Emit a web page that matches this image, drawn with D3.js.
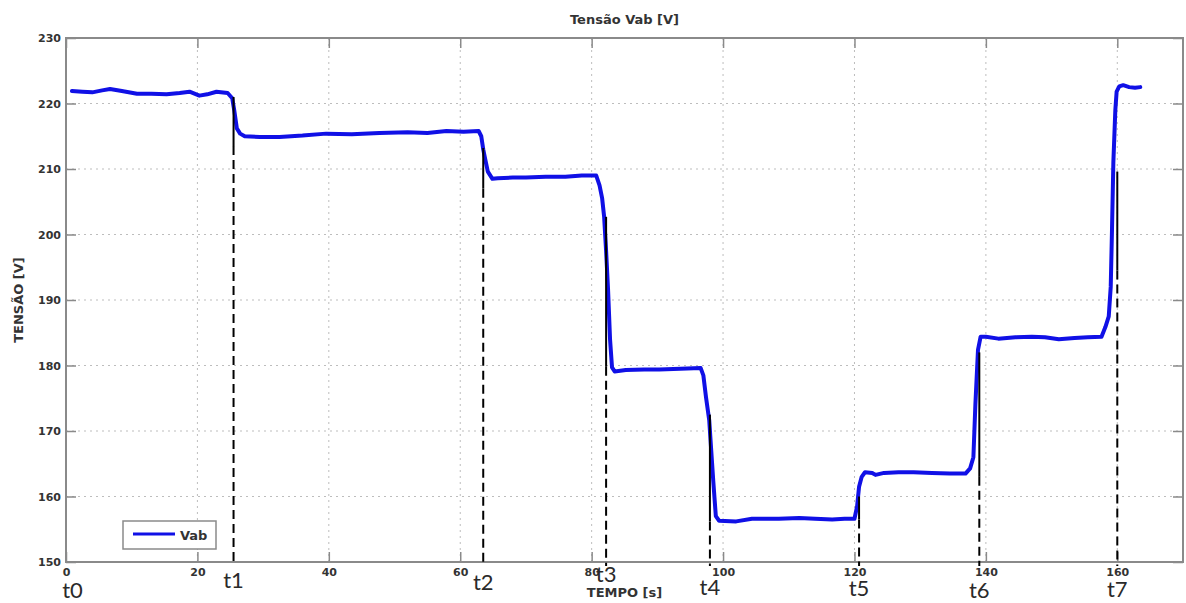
<!DOCTYPE html>
<html>
<head>
<meta charset="utf-8">
<script src="https://cdn.jsdelivr.net/npm/d3@7"></script>
<style>
  body { margin: 0; background: #fff; }
  .tick text { font-family: "DejaVu Sans", sans-serif; font-weight: bold; font-size: 11px; fill: #333; }
  .tick line { stroke: #8a8a8a; stroke-width: 1.5; }
  .grid line { stroke: #bdbdbd; stroke-width: 1; stroke-dasharray: 2,4; }
</style>
</head>
<body>
<div id="chart"></div>
<script>
const time = [0.9, 2.5, 4.0, 5.5, 6.7, 8.5, 10.8, 13.0, 15.3, 17.3, 18.8, 20.3, 21.5, 22.9, 24.6,
  25.3, 25.6, 26.0, 26.5, 27.2, 29.5, 32.5, 36.0, 39.6, 43.5, 47.7, 52.0, 55.0, 57.9, 60.5, 62.8,
  63.2, 63.5, 63.8, 64.2, 64.9, 65.7, 68.0, 70.0, 73.0, 76.0, 78.5, 80.7,
  81.2, 81.6, 81.9, 82.2, 82.5, 82.8, 83.1, 83.5, 85.2, 88.0, 90.3, 93.5, 96.6,
  97.0, 97.4, 97.9, 98.2, 98.5, 98.9, 99.4, 102.0, 104.4, 108.5, 111.6, 114.0, 116.6, 118.5, 120.0,
  120.4, 120.7, 121.1, 121.6, 122.7, 123.2, 124.5, 126.7, 129.0, 131.8, 134.5, 136.9,
  137.6, 138.1, 138.4, 138.8, 139.2, 140.0, 141.9, 144.5, 147.0, 149.0, 151.1, 153.5, 155.5, 157.6,
  158.2, 158.7, 159.0, 159.2, 159.4, 159.7, 159.9, 160.3, 160.9, 161.8, 162.7, 163.5];
const vab = [221.9, 221.8, 221.7, 222.0, 222.2, 221.9, 221.5, 221.5, 221.4, 221.6, 221.8, 221.2, 221.4, 221.8, 221.6,
  220.8, 219.0, 216.2, 215.4, 215.0, 214.9, 214.9, 215.1, 215.4, 215.3, 215.5, 215.6, 215.5, 215.8, 215.7, 215.8,
  215.0, 213.0, 211.5, 209.6, 208.5, 208.6, 208.7, 208.7, 208.8, 208.8, 209.0, 209.0,
  207.5, 205.5, 202.7, 197.5, 191.5, 184.0, 179.7, 179.1, 179.3, 179.4, 179.4, 179.5, 179.6,
  178.5, 175.2, 171.6, 167.0, 162.5, 157.0, 156.3, 156.2, 156.6, 156.6, 156.7, 156.6, 156.5, 156.6, 156.6,
  158.5, 161.5, 163.0, 163.7, 163.6, 163.3, 163.6, 163.7, 163.7, 163.6, 163.5, 163.5,
  164.3, 166.0, 174.0, 182.4, 184.4, 184.4, 184.1, 184.3, 184.4, 184.3, 184.0, 184.2, 184.3, 184.4,
  185.9, 187.5, 192.0, 201.0, 211.0, 219.0, 221.8, 222.6, 222.8, 222.5, 222.4, 222.5];

// event markers t0..t7 (t0 has no line)
const markerNames = ["t0", "t1", "t2", "t3", "t4", "t5", "t6", "t7"];
const markerTimes = [1.0, 25.5, 63.5, 82.2, 98.0, 120.7, 139.0, 160.0];
// solid part of each marker line (top / bottom voltage)
const markerSolidTop = [null, 221.0, 213.2, 202.7, 172.5, 160.0, 182.0, 209.6];
const markerSolidBottom = [null, 213.5, 207.0, 179.8, 156.2, 156.5, 163.0, 194.5];

const xTicks = [0, 20, 40, 60, 80, 100, 120, 140, 160];
const yTicks = [150, 160, 170, 180, 190, 200, 210, 220, 230];

// layout
const width = 1186, height = 603;
const margin = { top: 38, right: 3, bottom: 41, left: 66 };
const labelBaseline = [598, 588, 590, 582, 595, 596, 598, 597];

const svg = d3.select("#chart").append("svg")
  .attr("width", width)
  .attr("height", height);

const x = d3.scaleLinear().domain([0, 170]).range([margin.left, width - margin.right]);
const y = d3.scaleLinear().domain([150, 230]).range([height - margin.bottom, margin.top]);

// grid
svg.append("g").attr("class", "grid")
  .selectAll("line").data(xTicks.slice(1)).enter().append("line")
  .attr("x1", d => x(d)).attr("x2", d => x(d))
  .attr("y1", y(230)).attr("y2", y(150));
svg.append("g").attr("class", "grid")
  .selectAll("line").data(yTicks.slice(1, -1)).enter().append("line")
  .attr("x1", x(0)).attr("x2", x(170))
  .attr("y1", d => y(d)).attr("y2", d => y(d));

// axes with inward ticks
svg.append("g")
  .attr("transform", `translate(0,${y(150)})`)
  .call(d3.axisBottom(x).tickValues(xTicks).tickSize(-10).tickPadding(6))
  .call(g => g.select(".domain").remove());
svg.append("g")
  .attr("transform", `translate(0,${y(230)})`)
  .call(d3.axisTop(x).tickValues(xTicks).tickSize(-10).tickFormat(""))
  .call(g => g.select(".domain").remove());
svg.append("g")
  .attr("transform", `translate(${x(0)},0)`)
  .call(d3.axisLeft(y).tickValues(yTicks).tickSize(-10).tickPadding(5))
  .call(g => g.select(".domain").remove());
svg.append("g")
  .attr("transform", `translate(${x(170)},0)`)
  .call(d3.axisRight(y).tickValues(yTicks).tickSize(-10).tickFormat(""))
  .call(g => g.select(".domain").remove());

// frame
svg.append("rect")
  .attr("x", x(0)).attr("y", y(230))
  .attr("width", x(170) - x(0)).attr("height", y(150) - y(230))
  .attr("fill", "none").attr("stroke", "#8a8a8a").attr("stroke-width", 2);

// marker lines
const markers = markerTimes.map((t, i) => ({ t, name: markerNames[i], top: markerSolidTop[i], bottom: markerSolidBottom[i], base: labelBaseline[i] }));
const lined = markers.filter(d => d.top !== null);

svg.append("g").selectAll("line").data(lined).enter().append("line")
  .attr("x1", d => x(d.t)).attr("x2", d => x(d.t))
  .attr("y1", d => y(d.bottom)).attr("y2", y(150) + 4)
  .attr("stroke", "#000").attr("stroke-width", 2)
  .attr("stroke-dasharray", "9,5");

// Vab curve
const points = time.map((t, i) => [t, vab[i]]);
svg.append("path")
  .datum(points)
  .attr("fill", "none")
  .attr("stroke", "#1010e6")
  .attr("stroke-width", 4)
  .attr("stroke-linejoin", "round")
  .attr("stroke-linecap", "round")
  .attr("d", d3.line().x(d => x(d[0])).y(d => y(d[1])));

svg.append("g").selectAll("line").data(lined).enter().append("line")
  .attr("x1", d => x(d.t)).attr("x2", d => x(d.t))
  .attr("y1", d => y(d.top)).attr("y2", d => y(d.bottom))
  .attr("stroke", "#000").attr("stroke-width", 2);

// marker labels
svg.append("g").selectAll("text").data(markers).enter().append("text")
  .attr("x", d => x(d.t))
  .attr("y", d => d.base)
  .attr("text-anchor", "middle")
  .style("font-family", "Lato, 'Open Sans', sans-serif")
  .style("font-size", "22px")
  .style("fill", "#2a2a2a")
  .text(d => d.name);

// title and axis labels
svg.append("text")
  .attr("x", (x(0) + x(170)) / 2).attr("y", 24)
  .attr("text-anchor", "middle")
  .style("font-family", "DejaVu Sans, sans-serif").style("font-weight", "bold")
  .style("font-size", "13px").style("fill", "#333")
  .text("Tensão Vab [V]");

svg.append("text")
  .attr("x", (x(0) + x(170)) / 2).attr("y", 597)
  .attr("text-anchor", "middle")
  .style("font-family", "DejaVu Sans, sans-serif").style("font-weight", "bold")
  .style("font-size", "13px").style("fill", "#333")
  .text("TEMPO [s]");

svg.append("text")
  .attr("transform", `translate(23,${(y(150) + y(230)) / 2}) rotate(-90)`)
  .attr("text-anchor", "middle")
  .style("font-family", "DejaVu Sans, sans-serif").style("font-weight", "bold")
  .style("font-size", "13px").style("fill", "#333")
  .text("TENSÃO [V]");

// legend
const legend = svg.append("g").attr("transform", "translate(123,521)");
legend.append("rect")
  .attr("width", 93).attr("height", 28)
  .attr("fill", "#fff").attr("stroke", "#8a8a8a").attr("stroke-width", 1.5);
legend.append("line")
  .attr("x1", 10).attr("x2", 52).attr("y1", 13).attr("y2", 13)
  .attr("stroke", "#1010e6").attr("stroke-width", 3);
legend.append("text")
  .attr("x", 57).attr("y", 19)
  .style("font-family", "DejaVu Sans, sans-serif").style("font-weight", "bold")
  .style("font-size", "13px").style("fill", "#333")
  .text("Vab");
</script>
</body>
</html>
